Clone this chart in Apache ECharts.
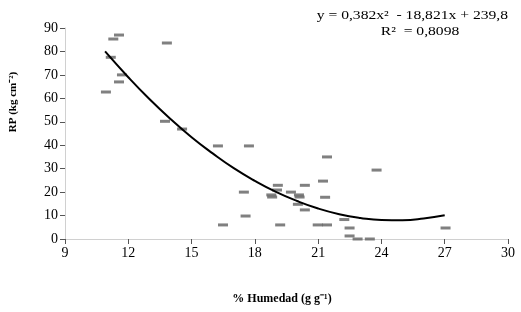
<!DOCTYPE html>
<html>
<head>
<meta charset="utf-8">
<script src="https://cdn.jsdelivr.net/npm/echarts@6/dist/echarts.min.js"></script>
<style>html,body{margin:0;padding:0;background:#fff}#c{width:521px;height:312px}</style>
</head>
<body>
<div id="c"></div>
<script>
// Observed points: humidity (% g g-1) and RP (kg cm-2)
var humedad = [10.94, 11.17, 11.29, 11.56, 11.56, 11.70, 13.83, 13.74, 14.55, 16.25, 17.72, 16.49, 17.48, 17.56,
  18.78, 18.82, 19.05, 19.09, 19.71, 20.09, 20.12, 20.04, 20.37, 20.37, 19.20, 20.98, 21.42, 21.42, 21.23, 21.33,
  22.24, 22.49, 22.49, 22.87, 23.45, 23.77, 27.04];
var rp = [62.7, 77.5, 85.3, 87.0, 67.0, 70.0, 83.6, 50.2, 46.9, 39.7, 39.7, 6.0, 20.0, 9.8,
  18.8, 17.9, 20.9, 22.9, 20.0, 18.8, 17.9, 14.8, 22.9, 12.4, 6.0, 6.0, 6.0, 35.0, 24.7, 17.8,
  8.3, 4.7, 1.3, 0, 0, 29.4, 4.7];
// Trend line
var trendX = [10.9, 12, 13, 14, 15, 16, 17, 18, 19, 20, 21, 22, 23, 24, 25, 26, 27];
var trendY = [80.0, 69.0, 59.7, 51.2, 43.4, 36.5, 30.2, 24.8, 20.1, 16.2, 13.0, 10.6, 9.0, 8.1, 8.0, 8.7, 10.1];
var xTicks = {min: 9, max: 30, interval: 3};
var yTicks = {min: 0, max: 90, interval: 10};
var eqLine1 = 'y = 0,382x\u00B2  - 18,821x + 239,8';
var eqLine2 = 'R\u00B2  = 0,8098';
var xTitle = '% Humedad (g g\u207B\u00B9)';
var yTitle = 'RP (kg cm\u207B\u00B2)';

var font = 'Liberation Serif';
var chart = echarts.init(document.getElementById('c'));
chart.setOption({
  animation: false,
  backgroundColor: '#fff',
  grid: {left: 65, right: 13, top: 28, bottom: 73},
  xAxis: {
    type: 'value', min: xTicks.min, max: xTicks.max, interval: xTicks.interval,
    axisLine: {lineStyle: {color: '#d0d0d0', width: 1}},
    axisTick: {show: true, length: 5, lineStyle: {color: '#555'}},
    splitLine: {show: false},
    axisLabel: {color: '#000', fontFamily: font, fontSize: 14, margin: 7}
  },
  yAxis: {
    type: 'value', min: yTicks.min, max: yTicks.max, interval: yTicks.interval,
    axisLine: {show: true, lineStyle: {color: '#d0d0d0', width: 1}},
    axisTick: {show: true, length: 5, lineStyle: {color: '#555'}},
    splitLine: {show: false},
    axisLabel: {color: '#000', fontFamily: font, fontSize: 14, margin: 7}
  },
  graphic: [
    {type: 'text', x: 13, y: 102, rotation: Math.PI / 2,
      style: {text: yTitle, fill: '#000', font: 'bold 11px ' + font, textAlign: 'center', textVerticalAlign: 'middle'}},
    {type: 'text', x: 282, y: 299,
      style: {text: xTitle, fill: '#000', font: 'bold 12px ' + font, textAlign: 'center', textVerticalAlign: 'middle'}},
    {type: 'text', x: 508, y: 16, scaleX: 1.2,
      style: {text: eqLine1, fill: '#000', font: '13px ' + font, textAlign: 'right', textVerticalAlign: 'middle'}},
    {type: 'text', x: 420, y: 32, scaleX: 1.2,
      style: {text: eqLine2, fill: '#000', font: '13px ' + font, textAlign: 'center', textVerticalAlign: 'middle'}}
  ],
  series: [
    {type: 'scatter', data: humedad.map(function (x, i) { return [x, rp[i]]; }),
      symbol: 'rect', symbolSize: [10, 3], itemStyle: {color: '#606060'}, z: 2},
    {type: 'line', data: trendX.map(function (x, i) { return [x, trendY[i]]; }),
      smooth: true, showSymbol: false, lineStyle: {color: '#000', width: 2}, z: 3}
  ]
});
</script>
</body>
</html>
